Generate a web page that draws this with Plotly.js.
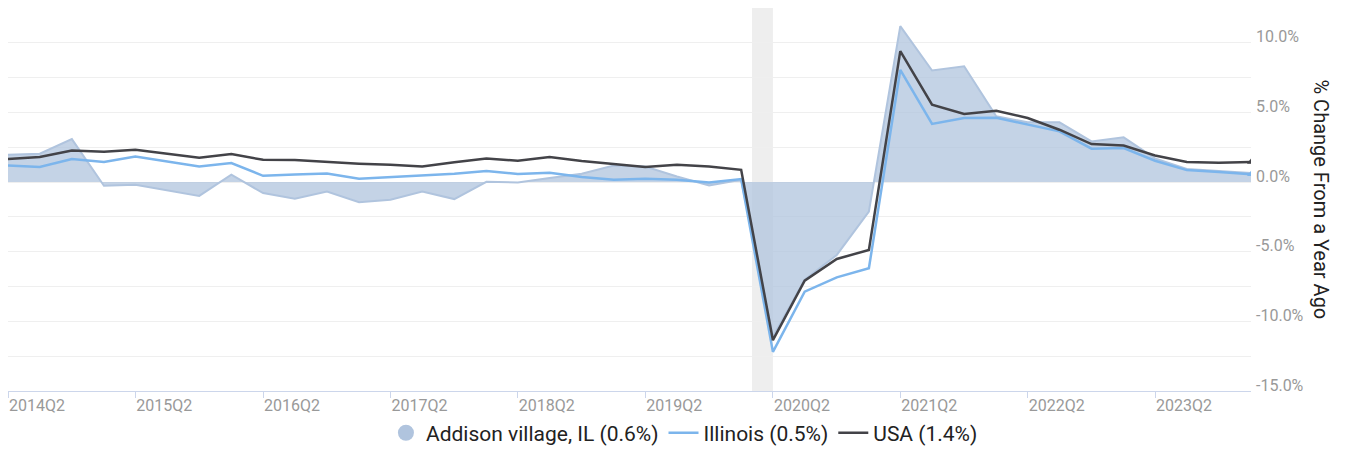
<!DOCTYPE html>
<html>
<head>
<meta charset="utf-8">
<script src="https://cdn.plot.ly/plotly-3.0.1.min.js"></script>
<style>html,body{margin:0;padding:0;background:#fff;}#chart{width:1346px;height:449px;}</style>
</head>
<body>
<div id="chart"></div>
<script>
// ---- data ----
const quarters = ['2014Q2','2014Q3','2014Q4','2015Q1','2015Q2','2015Q3','2015Q4','2016Q1','2016Q2','2016Q3',
  '2016Q4','2017Q1','2017Q2','2017Q3','2017Q4','2018Q1','2018Q2','2018Q3','2018Q4','2019Q1',
  '2019Q2','2019Q3','2019Q4','2020Q1','2020Q2','2020Q3','2020Q4','2021Q1','2021Q2','2021Q3',
  '2021Q4','2022Q1','2022Q2','2022Q3','2022Q4','2023Q1','2023Q2','2023Q3','2023Q4','2024Q1'];
const addison = [1.96,2.04,3.09,-0.27,-0.19,-0.60,-0.99,0.53,-0.79,-1.20,
  -0.68,-1.44,-1.27,-0.68,-1.22,0.02,-0.03,0.29,0.60,1.19,
  1.12,0.40,-0.24,0.17,-11.1,-7.0,-5.23,-2.11,11.2,8.01,
  8.32,4.72,4.29,4.29,2.92,3.21,1.70,0.94,0.81,0.65];
const illinois = [1.19,1.08,1.65,1.44,1.84,1.46,1.12,1.37,0.45,0.55,
  0.62,0.24,0.36,0.45,0.60,0.79,0.58,0.67,0.36,0.17,
  0.24,0.17,-0.03,0.22,-12.19,-7.87,-6.84,-6.19,8.05,4.18,
  4.60,4.62,4.12,3.64,2.40,2.45,1.53,0.86,0.72,0.57];
const usa = [1.65,1.80,2.27,2.18,2.32,2.06,1.75,2.01,1.60,1.58,
  1.44,1.32,1.24,1.12,1.42,1.70,1.53,1.80,1.51,1.27,
  1.08,1.24,1.12,0.88,-11.35,-7.08,-5.52,-4.87,9.40,5.56,
  4.89,5.12,4.60,3.76,2.73,2.63,1.91,1.44,1.39,1.45];
const seriesNames = ['Addison village, IL (0.6%)','Illinois (0.5%)','USA (1.4%)'];
const tickLabels = ['2014Q2','2015Q2','2016Q2','2017Q2','2018Q2','2019Q2','2020Q2','2021Q2','2022Q2','2023Q2'];
const yTickValues = [-15,-12.5,-10,-7.5,-5,-2.5,0,2.5,5,7.5,10,12.5];
const recession = ['2020-02-01','2020-04-01'];
const yTitle = '% Change From a Year Ago';

// ---- helpers ----
function qToDate(q){
  const y = q.slice(0,4), n = +q.slice(5);
  const m = String((n-1)*3+1).padStart(2,'0');
  return y + '-' + m + '-01';
}
const xs = quarters.map(qToDate);
const last = xs.length - 1;

const traces = [
  {x: xs, y: addison, type:'scatter', mode:'lines', fill:'tozeroy',
   line:{color:'#b0c4de', width:2}, fillcolor:'rgba(176,196,222,0.75)',
   name: seriesNames[0], showlegend:false, hoverinfo:'skip'},
  {x:[null], y:[null], type:'scatter', mode:'markers', name: seriesNames[0],
   marker:{symbol:'circle', size:16, color:'#b0c4de'}},
  {x: xs, y: illinois, type:'scatter', mode:'lines', name: seriesNames[1],
   line:{color:'#7cb5ec', width:2.5}},
  {x: xs, y: usa, type:'scatter', mode:'lines', name: seriesNames[2],
   line:{color:'#434348', width:2.5}},
  {x: [xs[last]], y: [illinois[last]], type:'scatter', mode:'markers', showlegend:false,
   marker:{symbol:'triangle-up', size:7, color:'#7cb5ec'}},
  {x: [xs[last]], y: [usa[last]], type:'scatter', mode:'markers', showlegend:false,
   marker:{symbol:'triangle-up', size:7, color:'#434348'}}
];

const layout = {
  width:1346, height:449,
  margin:{l:8, r:95, t:8, b:58, autoexpand:false},
  paper_bgcolor:'#fff', plot_bgcolor:'#fff',
  font:{family:'Roboto, sans-serif', color:'#333'},
  showlegend:true,
  legend:{orientation:'h', x:0.5442, xanchor:'center', y:-0.11, yanchor:'middle',
    font:{size:21, color:'#222'}, itemwidth:30, traceorder:'normal'},
  xaxis:{type:'date', range:[xs[0], xs[last]],
    tickvals: tickLabels.map(qToDate), ticktext: tickLabels,
    ticklabelposition:'outside right',
    tickfont:{size:16, color:'#999'},
    ticks:'outside', ticklen:6, tickcolor:'#ccd6eb', tickwidth:1,
    showline:true, linecolor:'#ccd6eb', linewidth:1,
    showgrid:false, zeroline:false, fixedrange:true, automargin:false},
  yaxis:{side:'right', range:[-15,12.5],
    tickvals: yTickValues,
    ticktext: yTickValues.map(v => (v % 5 === 0) ? v.toFixed(1)+'%' : ''),
    tickfont:{size:16, color:'#999'},
    ticklabelshift:-6, ticklabelstandoff:4,
    showgrid:true, gridcolor:'#efefef', gridwidth:1,
    zeroline:false, showline:false, ticks:'', fixedrange:true, automargin:false},
  shapes:[{type:'rect', xref:'x', yref:'paper', x0:recession[0], x1:recession[1], y0:0, y1:1,
    fillcolor:'#eeeeee', line:{width:0}, layer:'below'}],
  annotations:[{text:yTitle, xref:'paper', yref:'paper', x:1, y:0.5, xshift:70,
    xanchor:'center', yanchor:'middle', textangle:90, showarrow:false,
    font:{size:20, color:'#222'}}]
};

Plotly.newPlot('chart', traces, layout, {displayModeBar:false, staticPlot:true});
</script>
</body>
</html>
